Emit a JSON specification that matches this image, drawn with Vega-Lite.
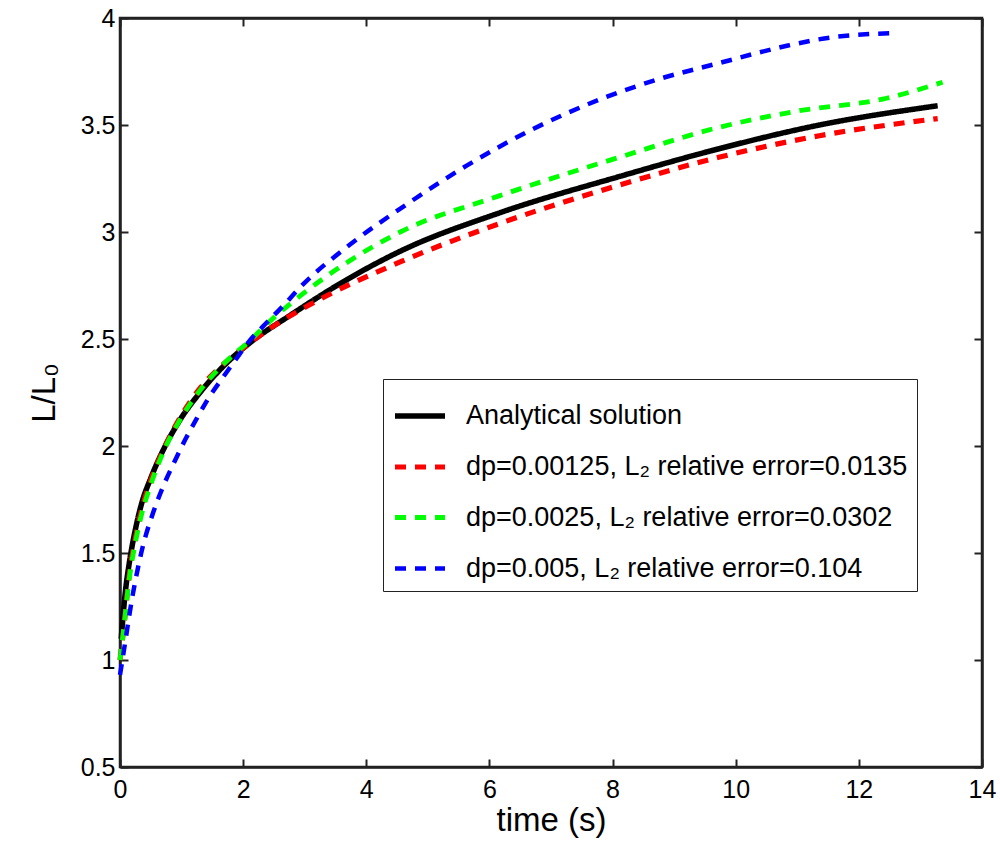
{
  "$schema": "https://vega.github.io/schema/vega-lite/v6.json",
  "width": 862,
  "height": 749,
  "autosize": {"type": "none"},
  "padding": {"left": 120, "top": 18, "right": 18, "bottom": 74},
  "background": "white",
  "config": {
    "font": "Liberation Sans",
    "view": {"stroke": "#222", "strokeWidth": 2.5},
    "axis": {
      "grid": false,
      "labelFont": "Liberation Sans",
      "labelFontSize": 25,
      "labelColor": "black",
      "titleFont": "Liberation Sans",
      "titleFontSize": 33,
      "titleFontWeight": "normal",
      "titleColor": "black",
      "domainColor": "#222",
      "domainWidth": 2.5,
      "tickColor": "#222",
      "tickWidth": 2,
      "tickSize": -8,
      "labelFlush": false,
      "labelOverlap": false
    },
    "legend": {
      "orient": "none", "legendX": 263, "legendY": 361, "title": null,
      "symbolType": "stroke", "symbolSize": 2500,
      "labelFont": "Liberation Sans", "labelFontSize": 27, "labelColor": "black", "labelLimit": 1000,
      "strokeColor": "#222", "fillColor": "white", "padding": 9, "rowPadding": 10, "labelOffset": 18
    }
  },
  "data": {
    "values": [
      {"t": 0.02, "v": 1.10, "s": "Analytical solution"},
      {"t": 0.08, "v": 1.30, "s": "Analytical solution"},
      {"t": 0.16, "v": 1.47, "s": "Analytical solution"},
      {"t": 0.25, "v": 1.61, "s": "Analytical solution"},
      {"t": 0.35, "v": 1.73, "s": "Analytical solution"},
      {"t": 0.50, "v": 1.85, "s": "Analytical solution"},
      {"t": 0.70, "v": 1.98, "s": "Analytical solution"},
      {"t": 0.97, "v": 2.12, "s": "Analytical solution"},
      {"t": 1.30, "v": 2.25, "s": "Analytical solution"},
      {"t": 1.67, "v": 2.37, "s": "Analytical solution"},
      {"t": 2.10, "v": 2.48, "s": "Analytical solution"},
      {"t": 2.76, "v": 2.61, "s": "Analytical solution"},
      {"t": 3.70, "v": 2.78, "s": "Analytical solution"},
      {"t": 4.55, "v": 2.91, "s": "Analytical solution"},
      {"t": 6.17, "v": 3.09, "s": "Analytical solution"},
      {"t": 8.12, "v": 3.26, "s": "Analytical solution"},
      {"t": 9.74, "v": 3.39, "s": "Analytical solution"},
      {"t": 11.36, "v": 3.50, "s": "Analytical solution"},
      {"t": 13.28, "v": 3.59, "s": "Analytical solution"},

      {"t": 0.0, "v": 1.00, "s": "dp=0.00125, L₂ relative error=0.0135"},
      {"t": 0.05, "v": 1.12, "s": "dp=0.00125, L₂ relative error=0.0135"},
      {"t": 0.16, "v": 1.42, "s": "dp=0.00125, L₂ relative error=0.0135"},
      {"t": 0.25, "v": 1.57, "s": "dp=0.00125, L₂ relative error=0.0135"},
      {"t": 0.35, "v": 1.70, "s": "dp=0.00125, L₂ relative error=0.0135"},
      {"t": 0.50, "v": 1.84, "s": "dp=0.00125, L₂ relative error=0.0135"},
      {"t": 0.70, "v": 1.98, "s": "dp=0.00125, L₂ relative error=0.0135"},
      {"t": 0.97, "v": 2.13, "s": "dp=0.00125, L₂ relative error=0.0135"},
      {"t": 1.30, "v": 2.27, "s": "dp=0.00125, L₂ relative error=0.0135"},
      {"t": 1.67, "v": 2.38, "s": "dp=0.00125, L₂ relative error=0.0135"},
      {"t": 2.10, "v": 2.48, "s": "dp=0.00125, L₂ relative error=0.0135"},
      {"t": 2.60, "v": 2.58, "s": "dp=0.00125, L₂ relative error=0.0135"},
      {"t": 3.08, "v": 2.66, "s": "dp=0.00125, L₂ relative error=0.0135"},
      {"t": 4.55, "v": 2.86, "s": "dp=0.00125, L₂ relative error=0.0135"},
      {"t": 6.17, "v": 3.04, "s": "dp=0.00125, L₂ relative error=0.0135"},
      {"t": 8.12, "v": 3.22, "s": "dp=0.00125, L₂ relative error=0.0135"},
      {"t": 9.74, "v": 3.35, "s": "dp=0.00125, L₂ relative error=0.0135"},
      {"t": 11.36, "v": 3.45, "s": "dp=0.00125, L₂ relative error=0.0135"},
      {"t": 13.28, "v": 3.53, "s": "dp=0.00125, L₂ relative error=0.0135"},

      {"t": 0.0, "v": 1.00, "s": "dp=0.0025, L₂ relative error=0.0302"},
      {"t": 0.05, "v": 1.12, "s": "dp=0.0025, L₂ relative error=0.0302"},
      {"t": 0.16, "v": 1.40, "s": "dp=0.0025, L₂ relative error=0.0302"},
      {"t": 0.25, "v": 1.55, "s": "dp=0.0025, L₂ relative error=0.0302"},
      {"t": 0.35, "v": 1.68, "s": "dp=0.0025, L₂ relative error=0.0302"},
      {"t": 0.50, "v": 1.82, "s": "dp=0.0025, L₂ relative error=0.0302"},
      {"t": 0.70, "v": 1.97, "s": "dp=0.0025, L₂ relative error=0.0302"},
      {"t": 0.97, "v": 2.12, "s": "dp=0.0025, L₂ relative error=0.0302"},
      {"t": 1.30, "v": 2.26, "s": "dp=0.0025, L₂ relative error=0.0302"},
      {"t": 1.67, "v": 2.38, "s": "dp=0.0025, L₂ relative error=0.0302"},
      {"t": 2.10, "v": 2.49, "s": "dp=0.0025, L₂ relative error=0.0302"},
      {"t": 2.50, "v": 2.60, "s": "dp=0.0025, L₂ relative error=0.0302"},
      {"t": 2.92, "v": 2.70, "s": "dp=0.0025, L₂ relative error=0.0302"},
      {"t": 3.70, "v": 2.86, "s": "dp=0.0025, L₂ relative error=0.0302"},
      {"t": 4.55, "v": 3.00, "s": "dp=0.0025, L₂ relative error=0.0302"},
      {"t": 6.17, "v": 3.17, "s": "dp=0.0025, L₂ relative error=0.0302"},
      {"t": 8.12, "v": 3.35, "s": "dp=0.0025, L₂ relative error=0.0302"},
      {"t": 9.74, "v": 3.49, "s": "dp=0.0025, L₂ relative error=0.0302"},
      {"t": 11.00, "v": 3.565, "s": "dp=0.0025, L₂ relative error=0.0302"},
      {"t": 12.45, "v": 3.625, "s": "dp=0.0025, L₂ relative error=0.0302"},
      {"t": 13.36, "v": 3.70, "s": "dp=0.0025, L₂ relative error=0.0302"},

      {"t": 0.0, "v": 0.93, "s": "dp=0.005, L₂ relative error=0.104"},
      {"t": 0.05, "v": 1.02, "s": "dp=0.005, L₂ relative error=0.104"},
      {"t": 0.21, "v": 1.31, "s": "dp=0.005, L₂ relative error=0.104"},
      {"t": 0.37, "v": 1.53, "s": "dp=0.005, L₂ relative error=0.104"},
      {"t": 0.54, "v": 1.69, "s": "dp=0.005, L₂ relative error=0.104"},
      {"t": 0.70, "v": 1.81, "s": "dp=0.005, L₂ relative error=0.104"},
      {"t": 0.89, "v": 1.93, "s": "dp=0.005, L₂ relative error=0.104"},
      {"t": 1.06, "v": 2.03, "s": "dp=0.005, L₂ relative error=0.104"},
      {"t": 1.25, "v": 2.13, "s": "dp=0.005, L₂ relative error=0.104"},
      {"t": 1.43, "v": 2.22, "s": "dp=0.005, L₂ relative error=0.104"},
      {"t": 1.67, "v": 2.32, "s": "dp=0.005, L₂ relative error=0.104"},
      {"t": 1.87, "v": 2.40, "s": "dp=0.005, L₂ relative error=0.104"},
      {"t": 2.10, "v": 2.49, "s": "dp=0.005, L₂ relative error=0.104"},
      {"t": 2.36, "v": 2.57, "s": "dp=0.005, L₂ relative error=0.104"},
      {"t": 2.65, "v": 2.655, "s": "dp=0.005, L₂ relative error=0.104"},
      {"t": 2.92, "v": 2.74, "s": "dp=0.005, L₂ relative error=0.104"},
      {"t": 3.73, "v": 2.94, "s": "dp=0.005, L₂ relative error=0.104"},
      {"t": 4.66, "v": 3.13, "s": "dp=0.005, L₂ relative error=0.104"},
      {"t": 5.63, "v": 3.31, "s": "dp=0.005, L₂ relative error=0.104"},
      {"t": 6.70, "v": 3.48, "s": "dp=0.005, L₂ relative error=0.104"},
      {"t": 7.80, "v": 3.62, "s": "dp=0.005, L₂ relative error=0.104"},
      {"t": 8.70, "v": 3.71, "s": "dp=0.005, L₂ relative error=0.104"},
      {"t": 9.74, "v": 3.79, "s": "dp=0.005, L₂ relative error=0.104"},
      {"t": 10.83, "v": 3.87, "s": "dp=0.005, L₂ relative error=0.104"},
      {"t": 11.57, "v": 3.91, "s": "dp=0.005, L₂ relative error=0.104"},
      {"t": 12.63, "v": 3.93, "s": "dp=0.005, L₂ relative error=0.104"}
    ]
  },
  "layer": [
    {
      "mark": {"type": "line", "interpolate": "monotone", "strokeCap": "butt"},
      "encoding": {
        "x": {
          "field": "t", "type": "quantitative",
          "scale": {"domain": [0, 14], "nice": false, "zero": false},
          "axis": {"values": [0, 2, 4, 6, 8, 10, 12, 14], "format": "~g", "title": "time (s)", "labelPadding": 18, "titlePadding": 2}
        },
        "y": {
          "field": "v", "type": "quantitative",
          "scale": {"domain": [0.5, 4], "nice": false, "zero": false},
          "axis": {"values": [0.5, 1, 1.5, 2, 2.5, 3, 3.5, 4], "format": "~g", "title": "L/L₀", "labelPadding": 13, "titlePadding": 19}
        },
        "color": {
          "field": "s", "type": "nominal",
          "scale": {
            "domain": ["Analytical solution", "dp=0.00125, L₂ relative error=0.0135", "dp=0.0025, L₂ relative error=0.0302", "dp=0.005, L₂ relative error=0.104"],
            "range": ["#000000", "#ff0000", "#00ff00", "#0000ff"]
          }
        },
        "strokeDash": {
          "field": "s", "type": "nominal",
          "scale": {
            "domain": ["Analytical solution", "dp=0.00125, L₂ relative error=0.0135", "dp=0.0025, L₂ relative error=0.0302", "dp=0.005, L₂ relative error=0.104"],
            "range": [[1, 0], [11, 9], [11, 9], [11, 9]]
          }
        },
        "strokeWidth": {
          "field": "s", "type": "nominal",
          "scale": {
            "domain": ["Analytical solution", "dp=0.00125, L₂ relative error=0.0135", "dp=0.0025, L₂ relative error=0.0302", "dp=0.005, L₂ relative error=0.104"],
            "range": [5.5, 4.5, 4.5, 4.5]
          }
        }
      }
    },
    {
      "mark": {"type": "line", "opacity": 0},
      "encoding": {
        "x": {"field": "t", "type": "quantitative", "axis": {"orient": "top", "values": [0, 2, 4, 6, 8, 10, 12, 14], "labels": false, "title": null}},
        "y": {"field": "v", "type": "quantitative", "axis": {"orient": "right", "values": [0.5, 1, 1.5, 2, 2.5, 3, 3.5, 4], "labels": false, "title": null}}
      }
    }
  ],
  "resolve": {"axis": {"x": "independent", "y": "independent"}}
}
